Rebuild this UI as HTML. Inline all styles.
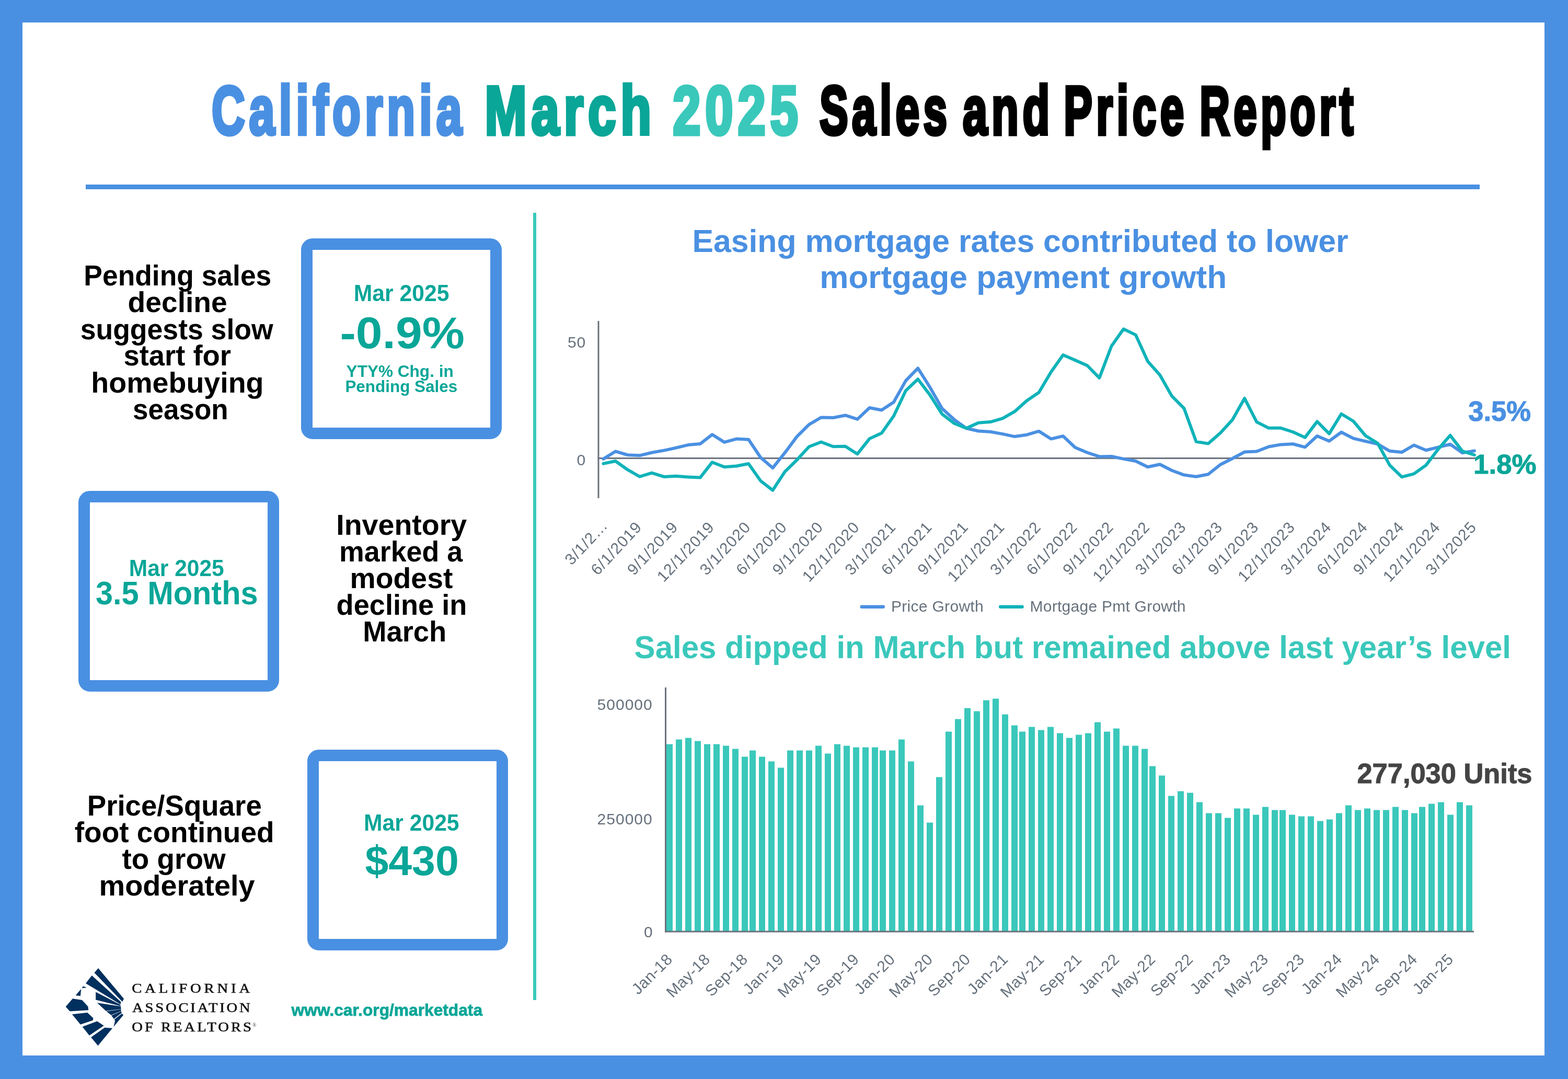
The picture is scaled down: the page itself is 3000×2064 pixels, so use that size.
<!DOCTYPE html>
<html lang="en">
<head>
<meta charset="utf-8">
<title>California March 2025 Sales and Price Report</title>
<style>
html,body{margin:0;padding:0}
body{width:3000px;height:2064px;background:#4A90E2;position:relative;font-family:"Liberation Sans",sans-serif}
.page{position:absolute;left:43px;top:43px;width:2912px;height:1976px;background:#fff}
h1,h2,p{margin:0;font-size:inherit;font-weight:inherit}
.rule{position:absolute;left:121px;top:310px;width:2667px;height:9px;background:#4A90E2}
.vline{position:absolute;left:977px;top:364px;width:6px;height:1506px;background:#38C9BA}
.box{position:absolute;width:340px;height:340px;border:22px solid #4A90E2;border-radius:22px;background:#fff}
.t{position:absolute;white-space:nowrap;line-height:1;transform-origin:0 0;font-weight:700;margin:0}
.t.serif{font-family:"Liberation Serif",serif;font-weight:400}
.t.reg{font-weight:400}
.ttl{letter-spacing:12px}
svg{position:absolute;left:0;top:0}
svg text{font-family:"Liberation Sans",sans-serif;font-size:30px;fill:#66717C}
</style>
</head>
<body>
<main class="page">
<header>
<h1>
<span class="t ttl" id="ti1" style="left:361px;top:103px;font-size:131.6px;color:#4A90E2;transform:translateX(0.92px) scaleX(0.6698);-webkit-text-stroke:7px currentColor;paint-order:stroke fill">California</span>
<span class="t ttl" id="ti2" style="left:884px;top:103px;font-size:131.6px;color:#0AA698;transform:translateX(0.44px) scaleX(0.7313);-webkit-text-stroke:7px currentColor;paint-order:stroke fill">March</span>
<span class="t ttl" id="ti3" style="left:1244px;top:103px;font-size:131.6px;color:#3AC8BB;transform:translateX(0.19px) scaleX(0.7290);-webkit-text-stroke:7px currentColor;paint-order:stroke fill">2025</span>
<span class="t ttl" id="ti4" style="left:1524px;top:103px;font-size:131.6px;color:#000;transform:translateX(0.92px) scaleX(0.6230);-webkit-text-stroke:7px currentColor;paint-order:stroke fill">Sales</span>
<span class="t ttl" id="ti5" style="left:1798px;top:103px;font-size:131.6px;color:#000;transform:translateX(0.96px) scaleX(0.6447);-webkit-text-stroke:7px currentColor;paint-order:stroke fill">and</span>
<span class="t ttl" id="ti6" style="left:1992px;top:103px;font-size:131.6px;color:#000;transform:translateX(0.15px) scaleX(0.6222);-webkit-text-stroke:7px currentColor;paint-order:stroke fill">Price</span>
<span class="t ttl" id="ti7" style="left:2252px;top:103px;font-size:131.6px;color:#000;transform:translateX(0.22px) scaleX(0.6075);-webkit-text-stroke:7px currentColor;paint-order:stroke fill">Report</span>
</h1>
<div class="rule"></div>
</header>
<div class="vline"></div>
<section id="stats">
<article>
<p>
<span class="t" id="p1_0" style="left:117px;top:457px;font-size:55.3px;color:#000;transform:translateX(0.37px) scaleX(0.9651)">Pending sales</span>
<span class="t" id="p1_1" style="left:201px;top:508px;font-size:55.3px;color:#000;transform:translateX(0.55px) scaleX(0.9984)">decline</span>
<span class="t" id="p1_2" style="left:110px;top:560px;font-size:55.3px;color:#000;transform:translateX(0.68px) scaleX(0.9683)">suggests slow</span>
<span class="t" id="p1_3" style="left:193px;top:610px;font-size:55.3px;color:#000;transform:translateX(0.44px) scaleX(0.9834)">start for</span>
<span class="t" id="p1_4" style="left:131px;top:662px;font-size:55.3px;color:#000;transform:translateX(0.35px) scaleX(1.0044)">homebuying</span>
<span class="t" id="p1_5" style="left:211px;top:713px;font-size:55.3px;color:#000;transform:translateX(0.03px) scaleX(0.9581)">season</span>
</p>
<div class="box" id="box1" style="left:533px;top:413px">
<span class="t" id="b1a" style="left:78px;top:60px;font-size:44.8px;color:#0AA698;transform:translateX(0.81px) scaleX(0.9520)">Mar 2025</span>
<span class="t" id="b1b" style="left:52px;top:116px;font-size:85.5px;color:#0AA698;transform:translateX(0.39px) scaleX(1.0675)">-0.9%</span>
<span class="t" id="b1c" style="left:64px;top:217px;font-size:31.4px;color:#0AA698;transform:translateX(0.59px) scaleX(1.0053)">YTY% Chg. in</span>
<span class="t" id="b1d" style="left:62px;top:246px;font-size:31.4px;color:#0AA698;transform:translateX(0.40px) scaleX(1.0009)">Pending Sales</span>
</div>
</article>
<article>
<div class="box" id="box2" style="left:107px;top:896px">
<span class="t" id="b2a" style="left:74px;top:103px;font-size:44.8px;color:#0AA698;transform:translateX(0.75px) scaleX(0.9487)">Mar 2025</span>
<span class="t" id="b2b" style="left:10px;top:142px;font-size:62.5px;color:#0AA698;transform:translateX(0.91px) scaleX(0.9518)">3.5 Months</span>
</div>
<p>
<span class="t" id="p2_0" style="left:600px;top:934px;font-size:55.3px;color:#000;transform:translateX(0.25px) scaleX(1.0045)">Inventory</span>
<span class="t" id="p2_1" style="left:606px;top:985px;font-size:55.3px;color:#000;transform:translateX(0.06px) scaleX(0.9717)">marked a</span>
<span class="t" id="p2_2" style="left:626px;top:1036px;font-size:55.3px;color:#000;transform:translateX(0.59px) scaleX(1.0004)">modest</span>
<span class="t" id="p2_3" style="left:600px;top:1087px;font-size:55.3px;color:#000;transform:translateX(0.54px) scaleX(0.9796)">decline in</span>
<span class="t" id="p2_4" style="left:651px;top:1138px;font-size:55.3px;color:#000;transform:translateX(0.13px) scaleX(0.9837)">March</span>
</p>
</article>
<article>
<p>
<span class="t" id="p3_0" style="left:123px;top:1471px;font-size:55.3px;color:#000;transform:translateX(0.69px) scaleX(0.9881)">Price/Square</span>
<span class="t" id="p3_1" style="left:99px;top:1522px;font-size:55.3px;color:#000;transform:translateX(0.78px) scaleX(0.9945)">foot continued</span>
<span class="t" id="p3_2" style="left:190px;top:1573px;font-size:55.3px;color:#000;transform:translateX(0.60px) scaleX(0.9914)">to grow</span>
<span class="t" id="p3_3" style="left:146px;top:1624px;font-size:55.3px;color:#000;transform:translateX(0.51px) scaleX(1.0101)">moderately</span>
</p>
<div class="box" id="box3" style="left:545px;top:1391px">
<span class="t" id="b3a" style="left:85px;top:95px;font-size:44.8px;color:#0AA698;transform:translateX(0.93px) scaleX(0.9525)">Mar 2025</span>
<span class="t" id="b3b" style="left:88px;top:151px;font-size:79.2px;color:#0AA698;transform:translateX(0.44px) scaleX(1.0182)">$430</span>
</div>
</article>
</section>
<section id="charts">
<h2>
<span class="t" id="c1a" style="left:1281px;top:388px;font-size:61.1px;color:#4A90E2;transform:translateX(0.39px) scaleX(0.9941)">Easing mortgage rates contributed to lower</span>
<span class="t" id="c1b" style="left:1525px;top:457px;font-size:61.1px;color:#4A90E2;transform:translateX(0.29px) scaleX(1.0153)">mortgage payment growth</span>
</h2>
<h2>
<span class="t" id="c2a" style="left:1170px;top:1165px;font-size:60.4px;color:#3AC8BB;transform:translateX(0.62px) scaleX(0.9936)">Sales dipped in March but remained above last year’s level</span>
</h2>
<svg width="3000" height="2064" viewBox="0 0 3000 2064" style="left:-43px;top:-43px">
<g id="chart-price-mortgage">
<rect x="1143.5" y="614" width="3" height="339" fill="#6A727D"/>
<rect x="1143.5" y="875.1" width="1678.7" height="3" fill="#6A727D"/>
<text x="1121.3" y="664.8" text-anchor="end" letter-spacing="1">50</text>
<text x="1120.3" y="889.6" text-anchor="end">0</text>
<polyline fill="none" stroke="#4A90E2" stroke-width="6" stroke-linejoin="round" stroke-linecap="round" points="1154.4,877.92 1177.55,863.48 1200.69,870.25 1223.84,871.37 1246.98,865.73 1270.13,861.67 1293.28,856.71 1316.42,851.07 1339.57,849.04 1362.71,831.22 1385.86,845.88 1409.01,839.57 1432.15,840.69 1455.3,875.21 1478.44,895.06 1501.59,866.19 1524.74,835.06 1547.88,812.05 1571.03,798.51 1594.17,798.96 1617.32,794.45 1640.47,801.89 1663.61,780.01 1686.76,784.53 1709.9,769.19 1733.05,728.13 1756.2,704.44 1779.34,740.99 1802.49,781.59 1825.63,802.57 1848.78,819.26 1871.93,824.45 1895.07,826.03 1918.22,830.09 1941.36,835.06 1964.51,831.67 1987.66,824.9 2010.8,839.57 2033.95,834.15 2057.09,856.03 2080.24,865.73 2103.39,873.4 2126.53,872.95 2149.68,877.92 2172.82,881.98 2195.97,893.26 2219.12,888.29 2242.26,900.02 2265.41,908.59 2288.55,911.75 2311.7,907.24 2334.85,888.74 2357.99,877.01 2381.14,864.61 2404.28,863.48 2427.43,854.46 2450.58,850.39 2473.72,849.27 2496.87,855.36 2520.01,833.93 2543.16,843.63 2566.31,826.71 2589.45,838.66 2612.6,844.08 2635.74,849.27 2658.89,862.8 2682.04,865.06 2705.18,851.52 2728.33,861.22 2751.47,855.58 2774.62,849.72 2797.77,866.19 2820.91,862.35"/>
<polyline fill="none" stroke="#10B3B9" stroke-width="6" stroke-linejoin="round" stroke-linecap="round" points="1154.4,886.94 1177.55,881.98 1200.69,898.44 1223.84,911.75 1246.98,904.53 1270.13,911.98 1293.28,910.85 1316.42,912.43 1339.57,913.56 1362.71,884.23 1385.86,893.26 1409.01,891.45 1432.15,886.94 1455.3,919.87 1478.44,937.92 1501.59,902.28 1524.74,879.72 1547.88,854.46 1571.03,845.43 1594.17,854.23 1617.32,853.78 1640.47,868.44 1663.61,839.12 1686.76,828.51 1709.9,795.8 1733.05,747.08 1756.2,725.2 1779.34,755.65 1802.49,792.19 1825.63,809.79 1848.78,819.26 1871.93,808.66 1895.07,807.08 1918.22,800.32 1941.36,787.23 1964.51,766.48 1987.66,750.69 2010.8,711.66 2033.95,678.95 2057.09,689.1 2080.24,699.26 2103.39,722.94 2126.53,662.03 2149.68,629.33 2172.82,640.6 2195.97,691.36 2219.12,717.3 2242.26,757.91 2265.41,781.14 2288.55,844.76 2311.7,848.59 2334.85,828.29 2357.99,803.02 2381.14,761.97 2404.28,807.08 2427.43,818.81 2450.58,818.81 2473.72,826.26 2496.87,836.86 2520.01,806.41 2543.16,829.64 2566.31,791.74 2589.45,805.73 2612.6,833.48 2635.74,847.69 2658.89,889.87 2682.04,912.43 2705.18,906.34 2728.33,889.87 2751.47,859.42 2774.62,832.8 2797.77,862.8 2820.91,870.25"/>
<g id="x-labels-1" letter-spacing="1.2">
<text transform="translate(1164.5,1006.6) rotate(-47)" text-anchor="end">3/1/2…</text>
<text transform="translate(1229.64,1009.5) rotate(-47)" text-anchor="end">6/1/2019</text>
<text transform="translate(1299.08,1009.5) rotate(-47)" text-anchor="end">9/1/2019</text>
<text transform="translate(1368.51,1009.5) rotate(-47)" text-anchor="end">12/1/2019</text>
<text transform="translate(1437.95,1009.5) rotate(-47)" text-anchor="end">3/1/2020</text>
<text transform="translate(1507.39,1009.5) rotate(-47)" text-anchor="end">6/1/2020</text>
<text transform="translate(1576.83,1009.5) rotate(-47)" text-anchor="end">9/1/2020</text>
<text transform="translate(1646.27,1009.5) rotate(-47)" text-anchor="end">12/1/2020</text>
<text transform="translate(1715.7,1009.5) rotate(-47)" text-anchor="end">3/1/2021</text>
<text transform="translate(1785.14,1009.5) rotate(-47)" text-anchor="end">6/1/2021</text>
<text transform="translate(1854.58,1009.5) rotate(-47)" text-anchor="end">9/1/2021</text>
<text transform="translate(1924.02,1009.5) rotate(-47)" text-anchor="end">12/1/2021</text>
<text transform="translate(1993.46,1009.5) rotate(-47)" text-anchor="end">3/1/2022</text>
<text transform="translate(2062.89,1009.5) rotate(-47)" text-anchor="end">6/1/2022</text>
<text transform="translate(2132.33,1009.5) rotate(-47)" text-anchor="end">9/1/2022</text>
<text transform="translate(2201.77,1009.5) rotate(-47)" text-anchor="end">12/1/2022</text>
<text transform="translate(2271.21,1009.5) rotate(-47)" text-anchor="end">3/1/2023</text>
<text transform="translate(2340.65,1009.5) rotate(-47)" text-anchor="end">6/1/2023</text>
<text transform="translate(2410.08,1009.5) rotate(-47)" text-anchor="end">9/1/2023</text>
<text transform="translate(2479.52,1009.5) rotate(-47)" text-anchor="end">12/1/2023</text>
<text transform="translate(2548.96,1009.5) rotate(-47)" text-anchor="end">3/1/2024</text>
<text transform="translate(2618.4,1009.5) rotate(-47)" text-anchor="end">6/1/2024</text>
<text transform="translate(2687.84,1009.5) rotate(-47)" text-anchor="end">9/1/2024</text>
<text transform="translate(2757.27,1009.5) rotate(-47)" text-anchor="end">12/1/2024</text>
<text transform="translate(2826.71,1009.5) rotate(-47)" text-anchor="end">3/1/2025</text>
</g>
<line x1="1648.7" y1="1160.7" x2="1689.8" y2="1160.7" stroke="#4A90E2" stroke-width="6.4" stroke-linecap="round"/>
<text x="1705" y="1169.8" letter-spacing="0.3">Price Growth</text>
<line x1="1914.2" y1="1160.7" x2="1955.6" y2="1160.7" stroke="#10B3B9" stroke-width="6.4" stroke-linecap="round"/>
<text x="1970.6" y="1169.8" letter-spacing="0.25">Mortgage Pmt Growth</text>
</g>
<g id="chart-sales">
<g fill="#3AC8BB">
<rect x="1275" y="1423.5" width="12" height="357.5"/>
<rect x="1293" y="1414.5" width="12" height="366.5"/>
<rect x="1311" y="1411.5" width="12" height="369.5"/>
<rect x="1329" y="1417.5" width="12" height="363.5"/>
<rect x="1347" y="1423.5" width="12" height="357.5"/>
<rect x="1365" y="1423.5" width="12" height="357.5"/>
<rect x="1383" y="1426.5" width="12" height="354.5"/>
<rect x="1401" y="1432.5" width="12" height="348.5"/>
<rect x="1419" y="1447.5" width="12" height="333.5"/>
<rect x="1434" y="1435.5" width="12" height="345.5"/>
<rect x="1452" y="1447.5" width="12" height="333.5"/>
<rect x="1470" y="1456.5" width="12" height="324.5"/>
<rect x="1488" y="1468.5" width="12" height="312.5"/>
<rect x="1506" y="1435.5" width="12" height="345.5"/>
<rect x="1524" y="1435.5" width="12" height="345.5"/>
<rect x="1542" y="1435.5" width="12" height="345.5"/>
<rect x="1560" y="1426.5" width="12" height="354.5"/>
<rect x="1578" y="1441.5" width="12" height="339.5"/>
<rect x="1596" y="1423.5" width="12" height="357.5"/>
<rect x="1614" y="1426.5" width="12" height="354.5"/>
<rect x="1632" y="1429.5" width="12" height="351.5"/>
<rect x="1650" y="1429.5" width="12" height="351.5"/>
<rect x="1668" y="1429.5" width="12" height="351.5"/>
<rect x="1683" y="1435.5" width="12" height="345.5"/>
<rect x="1701" y="1435.5" width="12" height="345.5"/>
<rect x="1719" y="1414.5" width="12" height="366.5"/>
<rect x="1737" y="1456.5" width="12" height="324.5"/>
<rect x="1755" y="1540.5" width="12" height="240.5"/>
<rect x="1773" y="1573.5" width="12" height="207.5"/>
<rect x="1791" y="1486.5" width="12" height="294.5"/>
<rect x="1809" y="1399.5" width="12" height="381.5"/>
<rect x="1827" y="1375.5" width="12" height="405.5"/>
<rect x="1845" y="1354.5" width="12" height="426.5"/>
<rect x="1863" y="1360.5" width="12" height="420.5"/>
<rect x="1881" y="1339.5" width="12" height="441.5"/>
<rect x="1899" y="1336.5" width="12" height="444.5"/>
<rect x="1917" y="1366.5" width="12" height="414.5"/>
<rect x="1935" y="1387.5" width="12" height="393.5"/>
<rect x="1950" y="1399.5" width="12" height="381.5"/>
<rect x="1968" y="1390.5" width="12" height="390.5"/>
<rect x="1986" y="1396.5" width="12" height="384.5"/>
<rect x="2004" y="1390.5" width="12" height="390.5"/>
<rect x="2022" y="1402.5" width="12" height="378.5"/>
<rect x="2040" y="1411.5" width="12" height="369.5"/>
<rect x="2058" y="1405.5" width="12" height="375.5"/>
<rect x="2076" y="1402.5" width="12" height="378.5"/>
<rect x="2094" y="1381.5" width="12" height="399.5"/>
<rect x="2112" y="1399.5" width="12" height="381.5"/>
<rect x="2130" y="1393.5" width="12" height="387.5"/>
<rect x="2148" y="1426.5" width="12" height="354.5"/>
<rect x="2166" y="1426.5" width="12" height="354.5"/>
<rect x="2184" y="1432.5" width="12" height="348.5"/>
<rect x="2199" y="1465.5" width="12" height="315.5"/>
<rect x="2217" y="1483.5" width="12" height="297.5"/>
<rect x="2235" y="1522.5" width="12" height="258.5"/>
<rect x="2253" y="1513.5" width="12" height="267.5"/>
<rect x="2271" y="1516.5" width="12" height="264.5"/>
<rect x="2289" y="1534.5" width="12" height="246.5"/>
<rect x="2307" y="1555.5" width="12" height="225.5"/>
<rect x="2325" y="1555.5" width="12" height="225.5"/>
<rect x="2343" y="1564.5" width="12" height="216.5"/>
<rect x="2361" y="1546.5" width="12" height="234.5"/>
<rect x="2379" y="1546.5" width="12" height="234.5"/>
<rect x="2397" y="1558.5" width="12" height="222.5"/>
<rect x="2415" y="1543.5" width="12" height="237.5"/>
<rect x="2433" y="1549.5" width="12" height="231.5"/>
<rect x="2448" y="1549.5" width="12" height="231.5"/>
<rect x="2466" y="1558.5" width="12" height="222.5"/>
<rect x="2484" y="1561.5" width="12" height="219.5"/>
<rect x="2502" y="1561.5" width="12" height="219.5"/>
<rect x="2520" y="1570.5" width="12" height="210.5"/>
<rect x="2538" y="1567.5" width="12" height="213.5"/>
<rect x="2556" y="1555.5" width="12" height="225.5"/>
<rect x="2574" y="1540.5" width="12" height="240.5"/>
<rect x="2592" y="1549.5" width="12" height="231.5"/>
<rect x="2610" y="1546.5" width="12" height="234.5"/>
<rect x="2628" y="1549.5" width="12" height="231.5"/>
<rect x="2646" y="1549.5" width="12" height="231.5"/>
<rect x="2664" y="1543.5" width="12" height="237.5"/>
<rect x="2682" y="1549.5" width="12" height="231.5"/>
<rect x="2700" y="1555.5" width="12" height="225.5"/>
<rect x="2715" y="1543.5" width="12" height="237.5"/>
<rect x="2733" y="1537.5" width="12" height="243.5"/>
<rect x="2751" y="1534.5" width="12" height="246.5"/>
<rect x="2769" y="1558.5" width="12" height="222.5"/>
<rect x="2787" y="1534.5" width="12" height="246.5"/>
<rect x="2805" y="1540.5" width="12" height="240.5"/>
</g>
<rect x="1272" y="1315" width="3" height="468.5" fill="#6A727D"/>
<rect x="1272" y="1780.5" width="1548" height="3" fill="#6A727D"/>
<text x="1248.7" y="1357.8" text-anchor="end" letter-spacing="1">500000</text>
<text x="1248.7" y="1576.9" text-anchor="end" letter-spacing="1">250000</text>
<text x="1248.7" y="1792.5" text-anchor="end">0</text>
<g id="x-labels-2" letter-spacing="0.6">
<text transform="translate(1288.5,1836.7) rotate(-45)" text-anchor="end">Jan-18</text>
<text transform="translate(1360.5,1836.7) rotate(-45)" text-anchor="end">May-18</text>
<text transform="translate(1432.5,1836.7) rotate(-45)" text-anchor="end">Sep-18</text>
<text transform="translate(1501.5,1836.7) rotate(-45)" text-anchor="end">Jan-19</text>
<text transform="translate(1573.5,1836.7) rotate(-45)" text-anchor="end">May-19</text>
<text transform="translate(1645.5,1836.7) rotate(-45)" text-anchor="end">Sep-19</text>
<text transform="translate(1714.5,1836.7) rotate(-45)" text-anchor="end">Jan-20</text>
<text transform="translate(1786.5,1836.7) rotate(-45)" text-anchor="end">May-20</text>
<text transform="translate(1858.5,1836.7) rotate(-45)" text-anchor="end">Sep-20</text>
<text transform="translate(1930.5,1836.7) rotate(-45)" text-anchor="end">Jan-21</text>
<text transform="translate(1999.5,1836.7) rotate(-45)" text-anchor="end">May-21</text>
<text transform="translate(2071.5,1836.7) rotate(-45)" text-anchor="end">Sep-21</text>
<text transform="translate(2143.5,1836.7) rotate(-45)" text-anchor="end">Jan-22</text>
<text transform="translate(2212.5,1836.7) rotate(-45)" text-anchor="end">May-22</text>
<text transform="translate(2284.5,1836.7) rotate(-45)" text-anchor="end">Sep-22</text>
<text transform="translate(2356.5,1836.7) rotate(-45)" text-anchor="end">Jan-23</text>
<text transform="translate(2428.5,1836.7) rotate(-45)" text-anchor="end">May-23</text>
<text transform="translate(2497.5,1836.7) rotate(-45)" text-anchor="end">Sep-23</text>
<text transform="translate(2569.5,1836.7) rotate(-45)" text-anchor="end">Jan-24</text>
<text transform="translate(2641.5,1836.7) rotate(-45)" text-anchor="end">May-24</text>
<text transform="translate(2713.5,1836.7) rotate(-45)" text-anchor="end">Sep-24</text>
<text transform="translate(2782.5,1836.7) rotate(-45)" text-anchor="end">Jan-25</text>
</g>
</g>
<g id="logo-mark" fill="#00305E">
<polygon points="187.98,1851.93 236.99,1910.53 234.11,1916.18 180.52,1860.78"/>
<polygon points="175.73,1866.1 231.34,1916.5 230.6,1921.18 164.01,1881.02"/>
<polygon points="183.19,1897.53 230.06,1921.82 230.81,1924.38 183.19,1912.45"/>
<polygon points="185.85,1918.31 230.92,1924.91 231.77,1930.35 202.58,1933.76"/>
<polygon points="203.64,1934.4 231.34,1930.77 231.77,1933.97 212.49,1941.85"/>
<polygon points="213.02,1942.49 231.88,1934.5 232.84,1937.59 217.92,1948.89"/>
<polygon points="218.98,1949.95 233.26,1938.66 236.03,1941.85 217.28,1964.23 220.05,1953.15"/>
<polygon points="159.21,1886.56 165.93,1889.33 156.55,1890.29"/>
<polygon points="155.27,1891.67 153.89,1905.2 144.62,1903.92"/>
<polygon points="138.97,1910.32 157.08,1912.98 168.27,1925.23 169.34,1932.16 133.64,1934.61 125.65,1925.77"/>
<polygon points="137.91,1940.15 167.21,1936.95 178.39,1947.61 177.86,1951.87 153.89,1959.86"/>
<polygon points="157.62,1964.12 185.85,1953.47 198.64,1961.99 170.93,1980.63"/>
<polygon points="174.13,1984.36 200.23,1965.72 215.15,1966.78 187.45,2000.35"/>
</g>
<text x="483" y="1964" style="font-family:'Liberation Serif',serif;font-size:10px;fill:#444">®</text>
</svg>
<p>
<span class="t" id="a1" style="left:2766px;top:718px;font-size:52.9px;color:#4A90E2;transform:translateX(0.25px) scaleX(0.9929);-webkit-text-stroke:1px currentColor;paint-order:stroke fill">3.5%</span>
<span class="t" id="a2" style="left:2776px;top:819px;font-size:52.2px;color:#0AA698;transform:translateX(0.06px) scaleX(1.0127);-webkit-text-stroke:1px currentColor;paint-order:stroke fill">1.8%</span>
<span class="t" id="a3" style="left:2553px;top:1411px;font-size:52.9px;color:#444444;transform:translateX(0.48px) scaleX(0.9908);-webkit-text-stroke:1px currentColor;paint-order:stroke fill">277,030 Units</span>
</p>
</section>
<footer>
<p>
<span class="t serif" id="l1" style="left:209px;top:1835px;font-size:25.6px;color:#111;letter-spacing:5.2px;transform:translateX(0.16px) scaleX(1.1200);-webkit-text-stroke:0.6px currentColor;paint-order:stroke fill">CALIFORNIA</span>
<span class="t serif" id="l2" style="left:210px;top:1872px;font-size:25.6px;color:#111;letter-spacing:3.37px;transform:translateX(0.08px) scaleX(1.1200);-webkit-text-stroke:0.6px currentColor;paint-order:stroke fill">ASSOCIATION</span>
<span class="t serif" id="l3" style="left:209px;top:1909px;font-size:25.6px;color:#111;letter-spacing:3.57px;transform:translateX(0.18px) scaleX(1.1200);-webkit-text-stroke:0.6px currentColor;paint-order:stroke fill">OF REALTORS</span>
</p>
<p>
<span class="t" id="url" style="left:514px;top:1873px;font-size:32.2px;color:#0AA698;transform:translateX(0.58px) scaleX(0.9854);-webkit-text-stroke:0.8px currentColor;paint-order:stroke fill">www.car.org/marketdata</span>
</p>
</footer>
</main>
</body>
</html>
